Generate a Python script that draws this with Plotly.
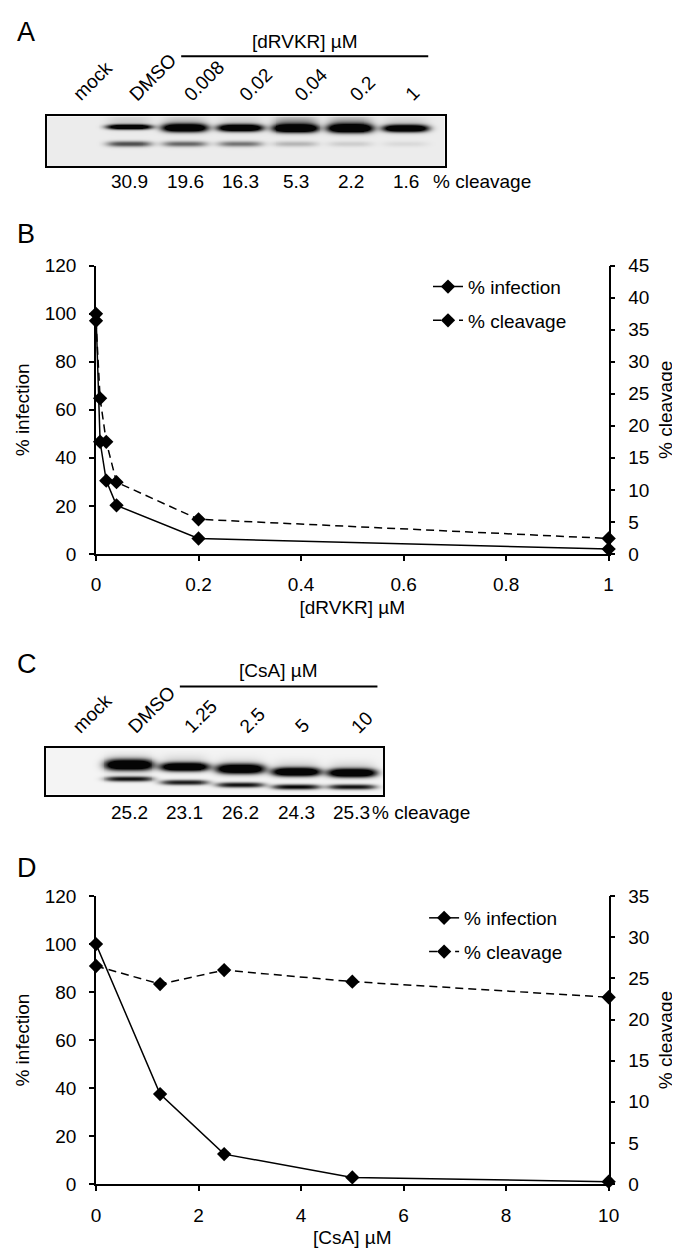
import numpy as np
import plotly.graph_objects as go

# ---------------- data ----------------
a_lanes = ["mock", "DMSO", "0.008", "0.02", "0.04", "0.2", "1"]
a_cleavage_labels = ["", "30.9", "19.6", "16.3", "5.3", "2.2", "1.6"]
a_upper = [0.0, 0.9, 1.0, 1.0, 1.0, 1.0, 1.0]
a_lower = [0.0, 0.55, 0.45, 0.4, 0.18, 0.1, 0.06]
a_smear = [0.0, 0.12, 0.2, 0.12, 0.4, 0.35, 0.12]

b_conc = [0, 0.008, 0.02, 0.04, 0.2, 1]
b_infection = [100, 46.7, 30.5, 20.2, 6.4, 2.0]
b_cleavage = [36.4, 24.3, 17.5, 11.2, 5.4, 2.4]

c_lanes = ["mock", "DMSO", "1.25", "2.5", "5", "10"]
c_cleavage_labels = ["", "25.2", "23.1", "26.2", "24.3", "25.3"]
c_upper = [0.0, 1.0, 1.0, 1.0, 1.0, 1.0]
c_lower = [0.0, 0.8, 0.75, 0.8, 0.85, 0.8]
c_smear = [0.0, 0.1, 0.12, 0.1, 0.12, 0.12]

d_conc = [0, 1.25, 2.5, 5, 10]
d_infection = [100, 37.5, 12.5, 2.8, 1.0]
d_cleavage = [26.5, 24.3, 26.0, 24.6, 22.7]

# ---------------- layout helpers ----------------
W, H = 680, 1253
FONT = "Liberation Sans, Arial, Helvetica, sans-serif"


def px_x(p):
    return p / W


def px_y(p):
    return 1 - p / H


def gel_image(xrange_lanes, width_px, height_px, upper, lower, smear,
              up_y, lo_y, up_s, lo_s, halfw):
    xs = np.linspace(xrange_lanes[0], xrange_lanes[1], width_px)
    ys = np.arange(height_px) + 0.5
    X, Y = np.meshgrid(xs, ys)
    z = np.zeros_like(X)
    for i in range(len(upper)):
        hp = np.exp(-(np.abs(X - i) / halfw) ** 4)
        z += 1.7 * upper[i] * np.exp(-0.5 * ((Y - up_y[i]) / up_s[i]) ** 2) * hp
        z += 1.2 * lower[i] * np.exp(-0.5 * ((Y - lo_y[i]) / lo_s[i]) ** 2) * hp
        z += smear[i] * np.exp(-0.5 * ((Y - (up_y[i] - 5)) / 5.0) ** 2) * hp
    return xs, ys, np.clip(z, 0, 1)


fig = go.Figure()

# ---------------- gel A ----------------
A_top, A_bot, A_left, A_right = 100, 151, 35, 442
A_lane0, A_pitch = 63, 56.6
A_xr = [(A_left - A_lane0) / A_pitch, (A_right - A_lane0) / A_pitch]
xs, ys, z = gel_image(A_xr, A_right - A_left, A_bot - A_top, a_upper, a_lower, a_smear,
                      up_y=[11, 11, 12, 12, 12.5, 12.5, 12.5], lo_y=[28] * 7,
                      up_s=[2, 1.7, 2.7, 2.4, 2.7, 2.9, 2.4], lo_s=[2.0] * 7, halfw=0.4)
fig.add_trace(go.Heatmap(x=xs, y=ys, z=z, xaxis="x", yaxis="y", showscale=False,
                         zmin=0, zmax=1, hoverinfo="skip",
                         colorscale=[[0, "rgb(236,236,236)"], [0.5, "rgb(110,110,110)"], [1, "rgb(5,5,5)"]]))

# ---------------- gel C ----------------
C_top, C_bot, C_left, C_right = 742, 790, 34, 379
C_lane0, C_pitch = 62, 57.0
C_xr = [(C_left - C_lane0) / C_pitch, (C_right - C_lane0) / C_pitch]
xs, ys, z = gel_image(C_xr, C_right - C_left, C_bot - C_top, c_upper, c_lower, c_smear,
                      up_y=[18, 18, 20, 22, 25, 26], lo_y=[32, 32, 35.5, 38, 40, 40],
                      up_s=[3.5, 3.6, 2.8, 3.2, 2.8, 2.8], lo_s=[1.8] * 6, halfw=0.42)
fig.add_trace(go.Heatmap(x=xs, y=ys, z=z, xaxis="x3", yaxis="y4", showscale=False,
                         zmin=0, zmax=1, hoverinfo="skip",
                         colorscale=[[0, "rgb(244,244,244)"], [0.5, "rgb(110,110,110)"], [1, "rgb(5,5,5)"]]))

# ---------------- line charts ----------------
line_solid = dict(color="black", width=1.5)
line_dash = dict(color="black", width=1.5, dash="8px,5px")
mk = dict(symbol="diamond", size=11, color="black")

fig.add_trace(go.Scatter(x=b_conc, y=b_infection, name="% infection", mode="lines+markers",
                         line=line_solid, marker=mk, xaxis="x2", yaxis="y2", cliponaxis=False,
                         legend="legend", legendgroup="b1"))
fig.add_trace(go.Scatter(x=b_conc, y=b_cleavage, name="% cleavage", mode="lines+markers",
                         line=line_dash, marker=mk, xaxis="x2", yaxis="y3", cliponaxis=False,
                         legend="legend", legendgroup="b2"))
fig.add_trace(go.Scatter(x=d_conc, y=d_infection, name="% infection", mode="lines+markers",
                         line=line_solid, marker=mk, xaxis="x4", yaxis="y5", cliponaxis=False,
                         legend="legend2", legendgroup="d1"))
fig.add_trace(go.Scatter(x=d_conc, y=d_cleavage, name="% cleavage", mode="lines+markers",
                         line=line_dash, marker=mk, xaxis="x4", yaxis="y6", cliponaxis=False,
                         legend="legend2", legendgroup="d2"))

tickfont = dict(size=19, color="black", family=FONT)
titlefont = dict(size=19, color="black", family=FONT)
ax = dict(showline=True, linecolor="black", linewidth=1.5, ticks="outside", ticklen=5,
          tickwidth=1.5, tickcolor="black", showgrid=False, zeroline=False, tickfont=tickfont)
gel_ax = dict(showline=True, mirror=True, linecolor="black", linewidth=2, showgrid=False,
              zeroline=False, showticklabels=False, ticks="", fixedrange=True)

B_top, B_bot, P_left, P_right = 252, 545, 85, 610
D_top, D_bot = 893, 1186

fig.update_layout(
    width=W, height=H, margin=dict(l=0, r=0, t=0, b=0),
    paper_bgcolor="white", plot_bgcolor="white", font=dict(family=FONT, color="black"),
    showlegend=True,
    xaxis=dict(gel_ax, domain=[px_x(A_left), px_x(A_right)], range=A_xr, anchor="y"),
    yaxis=dict(gel_ax, domain=[px_y(A_bot), px_y(A_top)], range=[A_bot - A_top, 0], anchor="x"),
    xaxis3=dict(gel_ax, domain=[px_x(C_left), px_x(C_right)], range=C_xr, anchor="y4"),
    yaxis4=dict(gel_ax, domain=[px_y(C_bot), px_y(C_top)], range=[C_bot - C_top, 0], anchor="x3"),
    xaxis2=dict(ax, domain=[px_x(P_left), px_x(P_right)], range=[0, 1], dtick=0.2, anchor="y2",
                ticklabelstandoff=8,
                title=dict(text="[dRVKR] µM", font=titlefont, standoff=6)),
    yaxis2=dict(ax, domain=[px_y(B_bot), px_y(B_top)], range=[0, 120], dtick=20, anchor="x2",
                ticklabelstandoff=9,
                title=dict(text="% infection", font=titlefont, standoff=10)),
    yaxis3=dict(ax, domain=[px_y(B_bot), px_y(B_top)], range=[0, 45], dtick=5, anchor="x2",
                overlaying="y2", side="right", ticklabelstandoff=9,
                title=dict(text="% cleavage", font=titlefont, standoff=10)),
    xaxis4=dict(ax, domain=[px_x(P_left), px_x(P_right)], range=[0, 10], dtick=2, anchor="y5",
                ticklabelstandoff=8,
                title=dict(text="[CsA] µM", font=titlefont, standoff=6)),
    yaxis5=dict(ax, domain=[px_y(D_bot), px_y(D_top)], range=[0, 120], dtick=20, anchor="x4",
                ticklabelstandoff=9,
                title=dict(text="% infection", font=titlefont, standoff=10)),
    yaxis6=dict(ax, domain=[px_y(D_bot), px_y(D_top)], range=[0, 35], dtick=5, anchor="x4",
                overlaying="y5", side="right", ticklabelstandoff=9,
                title=dict(text="% cleavage", font=titlefont, standoff=10)),
    legend=dict(x=px_x(425), y=px_y(254), xanchor="left", yanchor="top", font=titlefont,
                bgcolor="rgba(0,0,0,0)", traceorder="grouped", tracegroupgap=6, itemwidth=30),
    legend2=dict(x=px_x(421), y=px_y(896), xanchor="left", yanchor="top", font=titlefont,
                 bgcolor="rgba(0,0,0,0)", traceorder="grouped", tracegroupgap=6, itemwidth=30),
)

ann = []
shapes = []
# panel letters
for letter, yc in [("A", 14), ("B", 220), ("C", 657), ("D", 864)]:
    ann.append(dict(text=letter, x=px_x(2), y=px_y(yc), xref="paper", yref="paper",
                    xanchor="left", yanchor="middle", showarrow=False,
                    font=dict(size=27, family=FONT, color="black")))


def gel_labels(lanes, numbers, xref, lab_bottom, num_y, pct_x, br_from, br_to, br_y, br_text, br_text_y):
    for i, lab in enumerate(lanes):
        ann.append(dict(text=lab, x=i, xref=xref, y=px_y(lab_bottom), yref="paper",
                        xanchor="left", yanchor="bottom", xshift=-8, textangle=-45,
                        showarrow=False, font=dict(size=19, family=FONT, color="black")))
        if numbers[i]:
            ann.append(dict(text=numbers[i], x=i, xref=xref, y=px_y(num_y), yref="paper",
                            xanchor="center", yanchor="middle", showarrow=False,
                            font=dict(size=19, family=FONT, color="black")))
    ann.append(dict(text="% cleavage", x=pct_x, xref=xref, y=px_y(num_y), yref="paper",
                    xanchor="left", yanchor="middle", showarrow=False,
                    font=dict(size=19, family=FONT, color="black")))
    shapes.append(dict(type="line", xref=xref, yref="paper", x0=br_from, x1=br_to,
                       y0=px_y(br_y), y1=px_y(br_y), line=dict(color="black", width=2)))
    ann.append(dict(text=br_text, x=(br_from + br_to) / 2, xref=xref, y=px_y(br_text_y), yref="paper",
                    xanchor="center", yanchor="middle", showarrow=False,
                    font=dict(size=19, family=FONT, color="black")))


gel_labels(a_lanes, a_cleavage_labels, "x", 91, 166, 6.45, 1.93, 6.4, 39, "[dRVKR] µM", 24)
gel_labels(c_lanes, c_cleavage_labels, "x3", 734, 808, 5.33, 1.91, 5.46, 680, "[CsA] µM", 664)

fig.update_layout(annotations=ann, shapes=shapes)
fig.write_html("out.html")
